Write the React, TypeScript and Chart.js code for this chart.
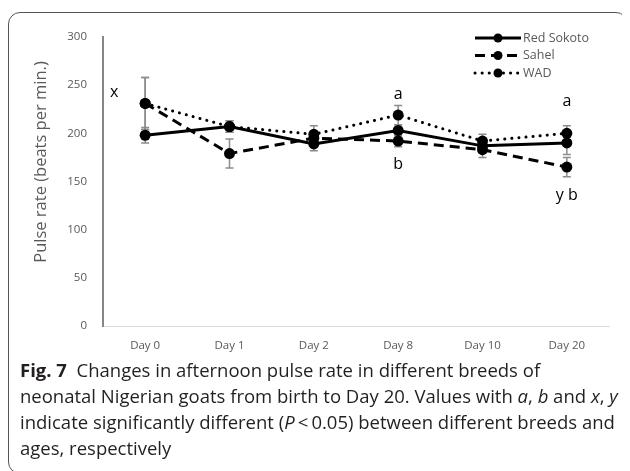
import React, { useEffect, useRef } from "react";
import { Chart, registerables } from "chart.js";

Chart.register(...registerables);

const categories = ["Day 0", "Day 1", "Day 2", "Day 8", "Day 10", "Day 20"];
const redSokoto = [198, 207, 189, 203, 187, 190];
const redSokotoErr = [8, 6, 7, 6, 7, 12];
const sahel = [231, 179, 195, 192, 183, 165];
const sahelErr = [27, 15, 6, 6, 8, 10];
const wad = [231, 207, 199, 219, 192, 200];
const wadErr = [27, 6, 9, 10, 7, 8];
const yTicks = [0, 50, 100, 150, 200, 250, 300];
const seriesNames = ["Red Sokoto", "Sahel", "WAD"];
const letterTexts = ["x", "a", "b", "a", "y b"];
const letterCats = [0, 3, 3, 5, 5];
const letterValues = [242, 240, 168, 233, 136];

const AXIS_GREY = "#595959";

const dashes: number[][] = [[], [10, 6], [0.1, 7]];

const overlayPlugin = {
  id: "overlay",
  beforeDatasetsDraw(chart: any) {
    const ctx = chart.ctx;
    const x = chart.scales.x;
    const y = chart.scales.y;
    const errs = [redSokotoErr, sahelErr, wadErr];
    chart.data.datasets.forEach((ds: any, di: number) => {
      ds.data.forEach((v: number, i: number) => {
        const px = x.getPixelForValue(i);
        const top = y.getPixelForValue(v + errs[di][i]);
        const bot = y.getPixelForValue(v - errs[di][i]);
        ctx.save();
        ctx.strokeStyle = "#8c8c8c";
        ctx.lineWidth = 1.5;
        ctx.beginPath();
        ctx.moveTo(px, top);
        ctx.lineTo(px, bot);
        ctx.moveTo(px - 4, top);
        ctx.lineTo(px + 4, top);
        ctx.moveTo(px - 4, bot);
        ctx.lineTo(px + 4, bot);
        ctx.stroke();
        ctx.restore();
      });
    });
  },
  afterDraw(chart: any) {
    const ctx = chart.ctx;
    const x = chart.scales.x;
    const y = chart.scales.y;
    const area = chart.chartArea;
    ctx.save();
    // letters
    ctx.fillStyle = "#000";
    ctx.font = "16px 'Open Sans', sans-serif";
    ctx.textAlign = "center";
    ctx.textBaseline = "middle";
    letterTexts.forEach((t, i) => {
      let px = x.getPixelForValue(letterCats[i]);
      if (t === "x") px -= 31;
      ctx.fillText(t, px, y.getPixelForValue(letterValues[i]));
    });
    // y title
    ctx.save();
    ctx.translate(area.left - 62, area.top + 125);
    ctx.rotate(-Math.PI / 2);
    ctx.fillStyle = AXIS_GREY;
    ctx.font = "16.5px 'Open Sans', sans-serif";
    ctx.textAlign = "center";
    ctx.textBaseline = "middle";
    ctx.fillText("Pulse rate (beats per min.)", 0, 0);
    ctx.restore();
    // legend
    const lx0 = area.right - 134;
    const lx1 = area.right - 88;
    seriesNames.forEach((name, i) => {
      const ly = area.top + 1 + i * 17.5;
      ctx.save();
      ctx.strokeStyle = "#000";
      ctx.lineWidth = 3;
      ctx.lineCap = i === 2 ? "round" : "butt";
      ctx.setLineDash(dashes[i]);
      ctx.beginPath();
      ctx.moveTo(lx0, ly);
      ctx.lineTo(lx1, ly);
      ctx.stroke();
      ctx.setLineDash([]);
      ctx.fillStyle = "#000";
      ctx.beginPath();
      ctx.arc((lx0 + lx1) / 2, ly, 4.5, 0, Math.PI * 2);
      ctx.fill();
      ctx.fillStyle = AXIS_GREY;
      ctx.font = "12.5px 'Open Sans', sans-serif";
      ctx.textAlign = "left";
      ctx.textBaseline = "middle";
      ctx.fillText(name, lx1 + 2, ly);
      ctx.restore();
    });
    ctx.restore();
  },
};

function ChartBox() {
  const ref = useRef<HTMLCanvasElement>(null);
  useEffect(() => {
    if (!ref.current) return;
    const mk = (label: string, data: number[], i: number) => ({
      label,
      data,
      borderColor: "#000",
      backgroundColor: "#000",
      borderWidth: 3,
      borderDash: dashes[i],
      borderCapStyle: i === 2 ? "round" : "butt",
      pointRadius: 5.5,
      pointBackgroundColor: "#000",
      pointBorderWidth: 0,
      tension: 0,
    });
    const chart = new Chart(ref.current, {
      type: "line",
      data: {
        labels: categories,
        datasets: [
          mk(seriesNames[0], redSokoto, 0),
          mk(seriesNames[1], sahel, 1),
          mk(seriesNames[2], wad, 2),
        ] as any,
      },
      options: {
        animation: false,
        responsive: false,
        layout: { padding: { top: 24, right: 20, left: 0, bottom: 0 } },
        plugins: { legend: { display: false }, tooltip: { enabled: false } },
        scales: {
          x: {
            offset: true,
            grid: { display: false },
            border: { display: true, color: "#d9d9d9", width: 1 },
            ticks: {
              color: AXIS_GREY,
              font: { family: "'Open Sans', sans-serif", size: 11.5 },
              padding: 5,
              maxRotation: 0,
            },
            afterFit: (s: any) => {
              s.height = 32;
            },
          },
          y: {
            min: 0,
            max: 300,
            afterBuildTicks: (s: any) => {
              s.ticks = yTicks.map((v) => ({ value: v }));
            },
            grid: { display: false },
            border: { display: true, color: "#868686", width: 2 },
            ticks: {
              color: AXIS_GREY,
              font: { family: "'Open Sans', sans-serif", size: 11.5 },
              padding: 8,
            },
            afterFit: (s: any) => {
              s.width = 94;
            },
          },
        },
      },
      plugins: [overlayPlugin],
    } as any);
    return () => chart.destroy();
  }, []);
  return <canvas ref={ref} width={620} height={345} style={{ display: "block" }} />;
}

export default function App() {
  return (
    <div
      style={{
        marginTop: 4,
        width: 620,
        height: 462,
        boxSizing: "border-box",
        border: "1px solid #555",
        borderRadius: 12,
        overflow: "hidden",
        fontFamily: "'Open Sans', sans-serif",
      }}
    >
      <ChartBox />
      <div
        style={{
          padding: "0 0 0 11px",
          fontSize: 18.5,
          lineHeight: "26px",
          color: "#231f20",
          whiteSpace: "nowrap",
          letterSpacing: 0,
          marginTop: -1,
        }}
      >
        <b>Fig. 7</b>&nbsp; Changes in afternoon pulse rate in different breeds of
        <br />
        neonatal Nigerian goats from birth to Day 20. Values with <i>a</i>, <i>b</i> and <i>x</i>, <i>y</i>
        <br />
        indicate significantly different (<i>P</i>&thinsp;&lt;&thinsp;0.05) between different breeds and
        <br />
        ages, respectively
      </div>
    </div>
  );
}
